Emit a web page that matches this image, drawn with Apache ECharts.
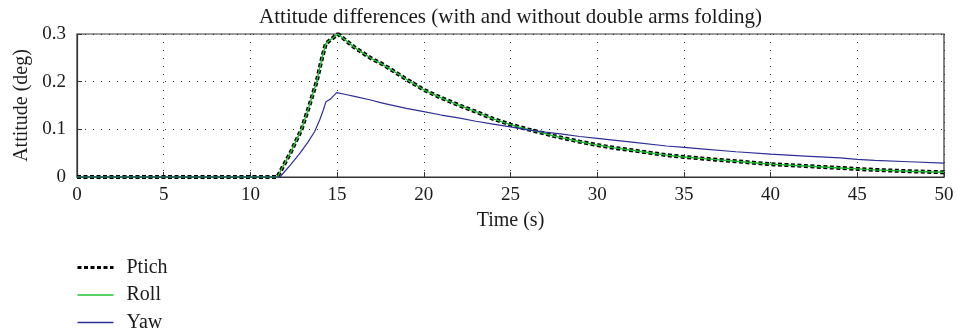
<!DOCTYPE html>
<html>
<head>
<meta charset="utf-8">
<script src="https://cdn.jsdelivr.net/npm/echarts@6.0.0/dist/echarts.min.js"></script>
<style>
  html, body { margin: 0; padding: 0; background: #fff; }
  #chart { width: 957px; height: 336px; }
</style>
</head>
<body>
<div id="chart"></div>
<script>
// Time stamps (s) and attitude differences (deg) for each axis
const pitchTime = [0, 11.55, 12.3, 12.95, 13.4, 13.82, 14.1, 14.35, 14.7, 15.05, 16, 17, 17.5, 18, 19, 20, 21, 22, 22.5, 23, 24, 25, 26, 27, 27.5, 28, 29, 30, 31, 32, 33, 34, 35, 36, 37, 38, 39, 40, 42, 44, 45, 46, 48, 50];
const pitchValues = [0, 0, 0.05, 0.1, 0.15, 0.2, 0.245, 0.28, 0.29, 0.30, 0.272, 0.248, 0.239, 0.228, 0.205, 0.183, 0.166, 0.151, 0.144, 0.137, 0.122, 0.110, 0.100, 0.091, 0.086, 0.082, 0.074, 0.067, 0.061, 0.056, 0.051, 0.046, 0.042, 0.039, 0.036, 0.033, 0.030, 0.027, 0.023, 0.019, 0.017, 0.015, 0.012, 0.010];

const rollTime = [0, 11.55, 12.3, 12.95, 13.4, 13.82, 14.1, 14.35, 14.7, 15.05, 16, 17, 17.5, 18, 19, 20, 21, 22, 22.5, 23, 24, 25, 26, 27, 27.5, 28, 29, 30, 31, 32, 33, 34, 35, 36, 37, 38, 39, 40, 42, 44, 45, 46, 48, 50];
const rollValues = [0, 0, 0.05, 0.1, 0.15, 0.2, 0.245, 0.28, 0.29, 0.30, 0.272, 0.248, 0.239, 0.228, 0.205, 0.183, 0.166, 0.151, 0.144, 0.137, 0.122, 0.110, 0.100, 0.091, 0.086, 0.082, 0.074, 0.067, 0.061, 0.056, 0.051, 0.046, 0.042, 0.039, 0.036, 0.033, 0.030, 0.027, 0.023, 0.019, 0.017, 0.015, 0.012, 0.010];

const yawTime = [0, 11.7, 12.3, 12.86, 13.3, 13.7, 14.0, 14.2, 14.36, 14.6, 14.97, 15.5, 16, 17, 17.5, 18, 19, 20, 21, 22, 23, 24, 25, 26, 27, 28, 29, 30, 32, 34, 35, 36, 38, 40, 42, 44, 45, 46, 48, 50];
const yawValues = [0, 0, 0.025, 0.05, 0.072, 0.095, 0.12, 0.14, 0.158, 0.163, 0.177, 0.173, 0.169, 0.161, 0.156, 0.152, 0.144, 0.137, 0.130, 0.124, 0.117, 0.111, 0.105, 0.099, 0.094, 0.090, 0.085, 0.081, 0.073, 0.065, 0.062, 0.059, 0.053, 0.048, 0.044, 0.040, 0.037, 0.035, 0.032, 0.029];

const seriesNames = ['Ptich', 'Roll', 'Yaw'];
const xTicks = [0, 5, 10, 15, 20, 25, 30, 35, 40, 45, 50];
const yTicks = [0, 0.1, 0.2, 0.3];

const zip = (xs, ys) => xs.map((x, i) => [x, ys[i]]);

const serif = '"Liberation Serif", "DejaVu Serif", serif';
const ink = '#1a1a1a';
const chart = echarts.init(document.getElementById('chart'), null, { renderer: 'canvas' });

const dotted = { color: '#333', width: 1, type: [1, 7] };

chart.setOption({
  animation: false,
  backgroundColor: '#fff',
  title: {
    text: 'Attitude differences (with and without double arms folding)',
    left: 510.5,
    textAlign: 'center',
    top: 7,
    padding: 0,
    textStyle: { fontFamily: serif, fontSize: 21, fontWeight: 'normal', color: ink }
  },
  grid: {
    left: 77, right: 13, top: 34, bottom: 159,
    show: true, borderColor: '#333', borderWidth: 1.2, backgroundColor: 'transparent'
  },
  legend: {
    orient: 'vertical',
    left: 76,
    top: 257.5,
    padding: 0,
    itemWidth: 36,
    itemHeight: 14,
    itemGap: 7.5,
    itemStyle: { opacity: 0 },
    textStyle: { fontFamily: serif, fontSize: 20, color: ink, lineHeight: 20, padding: [0, 0, 0, 8] },
    data: [
      { name: seriesNames[0], lineStyle: { color: '#000', width: 3, type: [4, 2.5] } },
      { name: seriesNames[1], lineStyle: { color: '#1fc42f', width: 1.5 } },
      { name: seriesNames[2], lineStyle: { color: '#2e2e96', width: 1.5 } }
    ]
  },
  xAxis: {
    type: 'value',
    min: xTicks[0], max: xTicks[xTicks.length - 1], interval: 5,
    name: 'Time (s)',
    nameLocation: 'middle',
    nameGap: 34,
    nameTextStyle: { fontFamily: serif, fontSize: 20, color: ink },
    axisLine: { show: true, onZero: false, lineStyle: { color: '#333', width: 1.2 } },
    axisTick: { show: true, inside: true, length: 5, lineStyle: { color: '#333' } },
    axisLabel: { fontFamily: serif, fontSize: 19, color: ink, margin: 9 },
    splitLine: { show: true, lineStyle: dotted }
  },
  yAxis: {
    type: 'value',
    min: yTicks[0], max: yTicks[yTicks.length - 1], interval: 0.1,
    name: 'Attitude (deg)',
    nameLocation: 'middle',
    nameGap: 41,
    nameTextStyle: { fontFamily: serif, fontSize: 20, color: ink },
    axisLine: { show: true, lineStyle: { color: '#333', width: 1.2 } },
    axisTick: { show: true, inside: true, length: 5, lineStyle: { color: '#333' } },
    axisLabel: { fontFamily: serif, fontSize: 19, color: ink, margin: 11,
      formatter: v => (v === 0 ? '0' : String(Math.round(v * 10) / 10)) },
    splitLine: { show: true, lineStyle: dotted }
  },
  series: [
    {
      name: seriesNames[0], type: 'line', symbol: 'none',
      data: zip(pitchTime, pitchValues),
      lineStyle: { color: '#000', width: 4, type: [4, 2.5] },
      itemStyle: { color: '#000' }, z: 2
    },
    {
      name: seriesNames[1], type: 'line', symbol: 'none',
      data: zip(rollTime, rollValues),
      lineStyle: { color: '#22bb33', width: 1.4 },
      itemStyle: { color: '#22bb33' }, z: 3
    },
    {
      name: seriesNames[2], type: 'line', symbol: 'none',
      data: zip(yawTime, yawValues),
      lineStyle: { color: '#2e2e96', width: 1.2 },
      itemStyle: { color: '#2e2e96' }, z: 4
    }
  ]
});
</script>
</body>
</html>
